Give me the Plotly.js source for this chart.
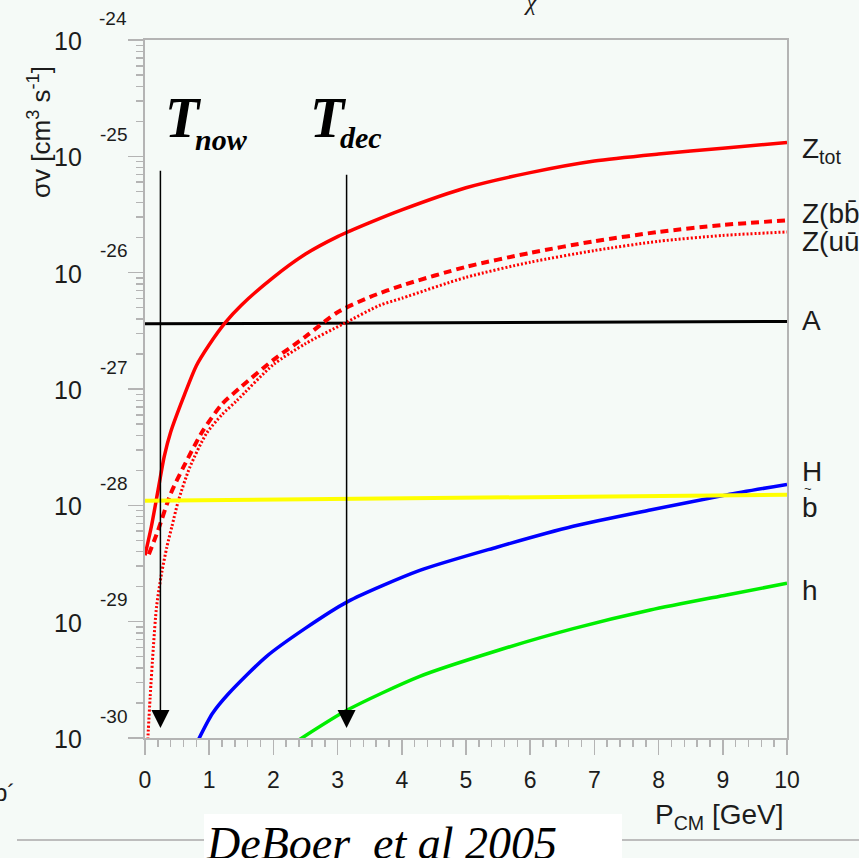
<!DOCTYPE html>
<html>
<head>
<meta charset="utf-8">
<script src="https://cdn.plot.ly/plotly-3.0.1.min.js"></script>
<style>
html,body{margin:0;padding:0;background:#f5faf7;}
#chart{width:859px;height:858px;}
</style>
</head>
<body>
<div id="chart"></div>
<script>
// ---- data (P_CM in GeV, sigma*v given as log10 of cm^3 s^-1) ----
const P_Ztot   = [0, 0.1, 0.2, 0.3, 0.4, 0.6, 0.8, 1.0, 1.25, 1.5, 2, 2.5, 3, 3.5, 4, 5, 6, 7, 8, 9, 10];
const lg_Ztot  = [-28.43, -28.18, -27.88, -27.58, -27.37, -27.07, -26.80, -26.62, -26.43, -26.28, -26.04, -25.84, -25.69, -25.57, -25.46, -25.27, -25.14, -25.04, -24.98, -24.93, -24.88];

const P_Zbb    = [0.06, 0.2, 0.4, 0.6, 0.9, 1.2, 1.5, 2, 2.5, 3, 3.5, 4, 5, 6, 7, 8, 9, 10];
const lg_Zbb   = [-28.42, -28.22, -27.90, -27.67, -27.36, -27.13, -26.98, -26.75, -26.55, -26.34, -26.21, -26.11, -25.95, -25.83, -25.73, -25.65, -25.59, -25.55];

const P_Zuu    = [0.04, 0.08, 0.13, 0.18, 0.26, 0.34, 0.42, 0.52, 0.7, 0.96, 1.2, 1.43, 2, 2.5, 3.09, 3.66, 4, 5, 6, 7, 8, 9, 10];
const lg_Zuu   = [-30.05, -29.65, -29.22, -28.87, -28.58, -28.36, -28.18, -27.96, -27.67, -27.38, -27.22, -27.10, -26.79, -26.61, -26.44, -26.28, -26.22, -26.04, -25.91, -25.81, -25.73, -25.68, -25.65];

const P_A      = [0, 10];
const lg_A     = [-26.44, -26.42];

const P_sb     = [0, 10];
const lg_sb    = [-27.96, -27.91];

const P_H      = [0.80, 1.05, 1.30, 1.89, 2.49, 3.15, 4.28, 5.48, 6.67, 7.87, 9.06, 10];
const lg_H     = [-30.05, -29.79, -29.62, -29.30, -29.06, -28.83, -28.56, -28.36, -28.18, -28.04, -27.91, -27.82];

const P_h      = [2.36, 3.15, 4.28, 5.48, 6.67, 7.87, 9.06, 10];
const lg_h     = [-30.03, -29.76, -29.47, -29.25, -29.06, -28.90, -28.77, -28.67];

const curveLabels = ['Z<sub>tot</sub>', 'Z(bb̄)', 'Z(uū)', 'A', 'H', 'b', 'h'];
const curveLabelLg = [-24.95, -25.49, -25.735, -26.41, -27.71, -28.02, -28.73];

const tempNames  = ['now', 'dec'];
const tempP      = [0.24, 3.14];
const arrowTopLg = [-25.11, -25.145];
const arrowTipLg = -29.915;

const xTicks = [0,1,2,3,4,5,6,7,8,9,10];
const yDecades = [-24,-25,-26,-27,-28,-29,-30];

const pow10 = a => a.map(v => Math.pow(10, v));

// ---- geometry helpers (paper coords from pixel positions) ----
const L = 145, T = 40, W = 642, H = 698;
const px = x => (x - L) / W;
const py = y => 1 - (y - T) / H;

const sans = 'Liberation Sans, Arial, Helvetica, sans-serif';
const serif = 'Liberation Serif, Times New Roman, serif';
const ink = '#1c1c1c';
const axisGray = '#b4b4b4';
const sm = 0.7;

const traces = [
  {x: P_A,    y: pow10(lg_A),    mode:'lines', line:{color:'#000000', width:3}},
  {x: P_Ztot, y: pow10(lg_Ztot), mode:'lines', line:{color:'#ff0000', width:3.5, shape:'spline', smoothing:sm}},
  {x: P_Zbb,  y: pow10(lg_Zbb),  mode:'lines', line:{color:'#ff0000', width:4, dash:'8px,5px', shape:'spline', smoothing:sm}},
  {x: P_Zuu,  y: pow10(lg_Zuu),  mode:'lines', line:{color:'#ff0000', width:3, dash:'2px,2px', shape:'spline', smoothing:sm}},
  {x: P_H,    y: pow10(lg_H),    mode:'lines', line:{color:'#0000ff', width:3.5, shape:'spline', smoothing:sm}},
  {x: P_sb,   y: pow10(lg_sb),   mode:'lines', line:{color:'#ffff00', width:4}},
  {x: P_h,    y: pow10(lg_h),    mode:'lines', line:{color:'#00ee00', width:3.5, shape:'spline', smoothing:sm}}
];

const minorY = [];
for (let k = -30; k < -24; k++) for (let m = 2; m <= 9; m++) minorY.push(m * Math.pow(10, k));

const ann = [];
// y tick labels: "10" with raised exponent
yDecades.forEach(k => {
  ann.push({xref:'paper', yref:'y', x: px(84), y: k, xanchor:'right', yanchor:'middle', yshift:-1,
    text:'10', showarrow:false, font:{family:sans, size:25, color:ink}});
  ann.push({xref:'paper', yref:'y', x: px(129), y: k, xanchor:'right', yanchor:'middle', yshift:22,
    text:String(k), showarrow:false, font:{family:sans, size:19, color:ink}});
});
// curve labels
curveLabels.forEach((t, i) => {
  ann.push({xref:'paper', yref:'y', x: px(800), y: curveLabelLg[i], xanchor:'left', yanchor:'middle',
    text:t, showarrow:false, font:{family:sans, size:28, color:ink}});
});
// small tilde over the sbottom label
ann.push({xref:'paper', yref:'y', x: px(808), y: curveLabelLg[5], yshift:19, xanchor:'center', yanchor:'middle',
  text:'~', showarrow:false, font:{family:sans, size:13, color:ink}});
// temperature arrows and labels
const tLeft = [163, 308], subLeft = [193, 338], subY = [140, 138];
tempNames.forEach((nm, i) => {
  ann.push({xref:'x', yref:'y', x: tempP[i], y: arrowTipLg, axref:'x', ayref:'y', ax: tempP[i], ay: arrowTopLg[i],
    text:'', showarrow:true, arrowhead:2, arrowsize:2.4, arrowwidth:1.5, arrowcolor:'#000', standoff:0});
  ann.push({xref:'paper', yref:'paper', x: px(tLeft[i]), y: py(118), xanchor:'left', yanchor:'middle',
    text:'<b><i>T</i></b>', showarrow:false, font:{family:serif, size:56, color:'#000'}});
  ann.push({xref:'paper', yref:'paper', x: px(subLeft[i]), y: py(subY[i]), xanchor:'left', yanchor:'middle',
    text:'<b><i>' + nm + '</i></b>', showarrow:false, font:{family:serif, size:30, color:'#000'}});
});
// axis titles
ann.push({xref:'paper', yref:'paper', x: px(40), y: py(132), textangle:-90, xanchor:'center', yanchor:'middle',
  text:'σv [cm<sup>3</sup> s<sup>-1</sup>]', showarrow:false, font:{family:sans, size:26, color:ink}});
ann.push({xref:'paper', yref:'paper', x: px(786), y: py(816), xanchor:'right', yanchor:'middle',
  text:'P<sub>CM</sub> [GeV]', showarrow:false, font:{family:sans, size:28, color:ink}});
// citation
ann.push({xref:'paper', yref:'paper', x: px(204), y: py(843), xanchor:'left', yanchor:'middle',
  text:'<i>DeBoer  et al 2005</i>', showarrow:false, font:{family:serif, size:46, color:'#000'}});
// cropped fragments at edges
ann.push({xref:'paper', yref:'paper', x: px(531), y: py(2), xanchor:'center', yanchor:'middle',
  text:'<i>χ</i>', showarrow:false, font:{family:serif, size:24, color:ink}});
ann.push({xref:'paper', yref:'paper', x: px(17), y: py(792), xanchor:'right', yanchor:'middle',
  text:'b´', showarrow:false, font:{family:sans, size:24, color:ink}});

const layout = {
  width: 859, height: 858,
  margin: {l: L, r: 859 - L - W, t: T, b: 858 - T - H, pad: 0},
  paper_bgcolor: '#f5faf7', plot_bgcolor: '#f5faf7',
  showlegend: false,
  xaxis: {
    range: [0, 10], tickvals: xTicks, ticktext: xTicks.map(String),
    ticks:'outside', ticklen:15, tickwidth:1.5, tickcolor:axisGray,
    minor: {ticks:'outside', dtick:0.2, ticklen:7, tickwidth:1.5, tickcolor:axisGray, showgrid:false},
    showline:true, linecolor:axisGray, linewidth:2, mirror:true,
    showgrid:false, zeroline:false, ticklabelstandoff: 5,
    tickfont:{family:sans, size:23, color:ink}
  },
  yaxis: {
    type:'log', range:[-30, -24], tickvals: yDecades.map(k => Math.pow(10, k)),
    showticklabels:false,
    ticks:'outside', ticklen:15, tickwidth:1.5, tickcolor:axisGray,
    minor: {ticks:'outside', tickvals: minorY, ticklen:7, tickwidth:1.5, tickcolor:axisGray, showgrid:false},
    showline:true, linecolor:axisGray, linewidth:2, mirror:true,
    showgrid:false, zeroline:false
  },
  shapes: [
    {type:'line', xref:'paper', yref:'paper', x0: px(17), x1: px(859), y0: py(840), y1: py(840),
      line:{color:'#bdbdbd', width:2}},
    {type:'rect', xref:'paper', yref:'paper', x0: px(204), x1: px(622), y0: py(870), y1: py(814),
      fillcolor:'#ffffff', line:{width:0}}
  ],
  annotations: ann
};

Plotly.newPlot('chart', traces, layout, {staticPlot:true, displayModeBar:false});
</script>
</body>
</html>
